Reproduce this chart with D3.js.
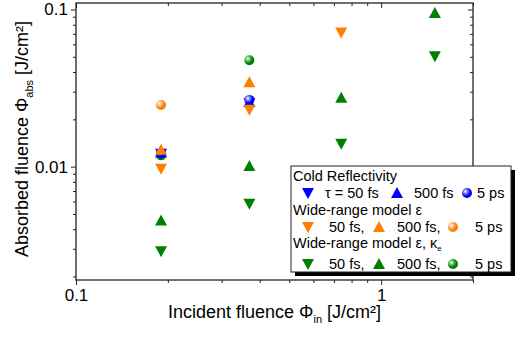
<!DOCTYPE html>
<html>
<head>
<meta charset="utf-8">
<script src="https://cdn.jsdelivr.net/npm/d3@7"></script>
<style>
  body { margin: 0; background: #fff; }
  svg { font-family: Arial, "Liberation Sans", sans-serif; }
</style>
</head>
<body>
<div id="chart"></div>
<script>
// Incident fluence values (x) in J/cm²
const fluenceIn = [0.19, 0.37, 0.74, 1.5];

// Cold reflectivity
const cold50fs = [0.0121, 0.0254];
const cold500fs = [0.0123, 0.0258];
const cold5ps = [0.0122, 0.0266];

// Wide-range model eps
const wr50fs = [0.0097, 0.0230, 0.0715];
const wr500fs = [0.0128, 0.0345];
const wr5ps = [0.0247];

// Wide-range model eps, kappa_e
const wrk50fs = [0.0029, 0.0058, 0.0140, 0.0505];
const wrk500fs = [0.00455, 0.0101, 0.0274, 0.095];
const wrk5ps = [0.0118, 0.0476];

const xTicks = [0.1, 1];
const yTicks = [0.01, 0.1];

const blue = "#0000ff", orange = "#ff8000", green = "#008000";

const series = [
    { name: "wrk50", values: wrk50fs, color: green, shape: "down" },
    { name: "wrk500", values: wrk500fs, color: green, shape: "up" },
    { name: "wrk5ps", values: wrk5ps, color: green, shape: "ball" },
    { name: "cold50", values: cold50fs, color: blue, shape: "down" },
    { name: "cold500", values: cold500fs, color: blue, shape: "up" },
    { name: "cold5ps", values: cold5ps, color: blue, shape: "ball" },
    { name: "wr50", values: wr50fs, color: orange, shape: "down" },
    { name: "wr500", values: wr500fs, color: orange, shape: "up" },
    { name: "wr5ps", values: wr5ps, color: orange, shape: "ball" }
];

const W = 520, H = 338;
const margin = { top: 3, right: 47, bottom: 58, left: 76 };
const width = W - margin.left - margin.right;
const height = H - margin.top - margin.bottom;

const svg = d3.select("#chart")
    .append("svg")
    .attr("width", W)
    .attr("height", H);

// sphere gradients, like the shaded balls
const defs = svg.append("defs");
[["blue", blue, "#9999ff"], ["orange", orange, "#ffd0a0"], ["green", green, "#88cc88"]].forEach(([id, c, hi]) => {
    const g = defs.append("radialGradient")
        .attr("id", "ball-" + id)
        .attr("cx", "35%").attr("cy", "35%").attr("r", "65%");
    g.append("stop").attr("offset", "0%").attr("stop-color", "#ffffff");
    g.append("stop").attr("offset", "25%").attr("stop-color", hi);
    g.append("stop").attr("offset", "70%").attr("stop-color", c);
    g.append("stop").attr("offset", "100%").attr("stop-color", c);
});
const gradId = { [blue]: "ball-blue", [orange]: "ball-orange", [green]: "ball-green" };

const g = svg.append("g")
    .attr("transform", `translate(${margin.left},${margin.top})`);

const x = d3.scaleLog().domain([0.1, 2]).range([0, width]);
const y = d3.scaleLog().domain([0.0019, 0.11]).range([height, 0]);

// minor tick values
const xMinor = d3.range(2, 10).map(d => d / 10).concat([2]);
const yMinor = d3.range(2, 10).map(d => d / 1000).concat(d3.range(2, 10).map(d => d / 100));

// bottom axis (outward)
g.append("g")
    .attr("transform", `translate(0,${height})`)
    .call(d3.axisBottom(x).tickValues(xMinor).tickSize(3).tickFormat(""))
    .call(a => a.select(".domain").remove());
g.append("g")
    .attr("transform", `translate(0,${height})`)
    .call(d3.axisBottom(x).tickValues(xTicks).tickSize(5).tickPadding(4).tickFormat(d3.format("")))
    .call(a => a.select(".domain").remove())
    .selectAll("text").attr("font-size", 17).attr("fill", "#000").attr("font-family", "Arial, 'Liberation Sans', sans-serif");

// top mirror axis (inward)
g.append("g")
    .call(d3.axisTop(x).tickValues(xMinor).tickSize(-3).tickFormat(""))
    .call(a => a.select(".domain").remove());
g.append("g")
    .call(d3.axisTop(x).tickValues(xTicks).tickSize(-5).tickFormat(""))
    .call(a => a.select(".domain").remove());

// left axis (outward)
g.append("g")
    .call(d3.axisLeft(y).tickValues(yMinor.filter(v => v >= 0.0019)).tickSize(3).tickFormat(""))
    .call(a => a.select(".domain").remove());
g.append("g")
    .call(d3.axisLeft(y).tickValues(yTicks).tickSize(5).tickPadding(3).tickFormat(d3.format("")))
    .call(a => a.select(".domain").remove())
    .selectAll("text").attr("font-size", 17).attr("fill", "#000").attr("font-family", "Arial, 'Liberation Sans', sans-serif");

// right mirror axis (inward)
g.append("g")
    .attr("transform", `translate(${width},0)`)
    .call(d3.axisRight(y).tickValues(yMinor.filter(v => v >= 0.0019)).tickSize(-3).tickFormat(""))
    .call(a => a.select(".domain").remove());
g.append("g")
    .attr("transform", `translate(${width},0)`)
    .call(d3.axisRight(y).tickValues(yTicks).tickSize(-5).tickFormat(""))
    .call(a => a.select(".domain").remove());

g.selectAll(".tick line").attr("stroke", "#222").attr("stroke-width", 1);

// frame
g.append("rect")
    .attr("width", width)
    .attr("height", height)
    .attr("fill", "none")
    .attr("stroke", "#222")
    .attr("stroke-width", 1.3);

// markers
function drawMarker(sel, shape, color, cx, cy) {
    const s = 6, h = 5;
    if (shape === "up") {
        sel.append("path")
            .attr("d", `M${cx - s},${cy + h} L${cx + s},${cy + h} L${cx},${cy - h - 1} Z`)
            .attr("fill", color);
    } else if (shape === "down") {
        sel.append("path")
            .attr("d", `M${cx - s},${cy - h} L${cx + s},${cy - h} L${cx},${cy + h + 1} Z`)
            .attr("fill", color);
    } else {
        sel.append("circle")
            .attr("cx", cx).attr("cy", cy).attr("r", 5)
            .attr("fill", `url(#${gradId[color]})`);
    }
}

series.forEach(s => {
    s.values.forEach((v, i) => {
        drawMarker(g, s.shape, s.color, x(fluenceIn[i]), y(v));
    });
});

// axis titles
const xt = svg.append("text")
    .attr("x", margin.left + width / 2)
    .attr("y", 318)
    .attr("text-anchor", "middle")
    .attr("font-size", 18);
xt.append("tspan").text("Incident fluence Φ");
xt.append("tspan").attr("font-size", 11).attr("dy", 5).text("in");
xt.append("tspan").attr("dy", -5).text(" [J/cm²]");

const yt = svg.append("text")
    .attr("transform", `translate(28,139) rotate(-90)`)
    .attr("text-anchor", "middle")
    .attr("font-size", 18);
yt.append("tspan").text("Absorbed fluence Φ");
yt.append("tspan").attr("font-size", 11).attr("dy", 5).text("abs");
yt.append("tspan").attr("dy", -5).text(" [J/cm²]");

// legend
const legend = svg.append("g").attr("transform", "translate(291,166)");
legend.append("rect")
    .attr("x", 4).attr("y", 4).attr("width", 220).attr("height", 106)
    .attr("fill", "#000");
legend.append("rect")
    .attr("width", 220).attr("height", 106)
    .attr("fill", "#fff").attr("stroke", "#222").attr("stroke-width", 1);

const lfs = 14.5;
function legText(tx, ty, str) {
    return legend.append("text").attr("x", tx).attr("y", ty).attr("font-size", lfs).text(str);
}
legText(2, 15, "Cold Reflectivity");
legText(2, 49, "Wide-range model ε");
const l3 = legend.append("text").attr("x", 2).attr("y", 82).attr("font-size", lfs);
l3.append("tspan").text("Wide-range model ε, κ");
l3.append("tspan").attr("font-size", 8).attr("dy", 3).text("e");

const legRows = [
    { cy: 27, color: blue, labels: ["τ = 50 fs", "500 fs", "5 ps"], mx: [17, 106, 176], tx: [34, 123, 186] },
    { cy: 61, color: orange, labels: ["50 fs,", "500 fs,", "5 ps"], mx: [17, 88, 162], tx: [38, 106, 184] },
    { cy: 98, color: green, labels: ["50 fs,", "500 fs,", "5 ps"], mx: [17, 88, 162], tx: [38, 106, 184] }
];
legRows.forEach(r => {
    ["down", "up", "ball"].forEach((shape, k) => {
        drawMarker(legend, shape, r.color, r.mx[k], r.cy);
        legText(r.tx[k], r.cy + 5, r.labels[k]);
    });
});
</script>
</body>
</html>
